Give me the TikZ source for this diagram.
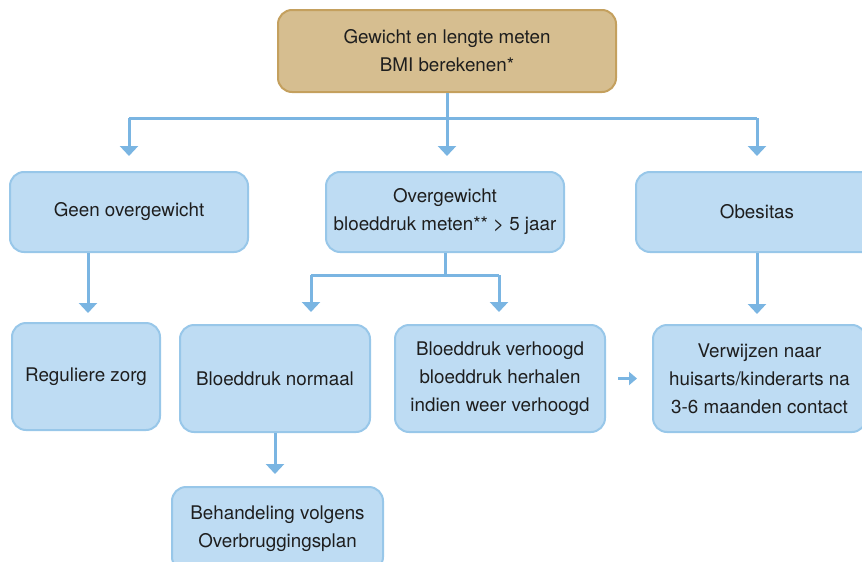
\documentclass[tikz,border=0pt]{standalone}
\usepackage{fontspec}
\setmainfont{TeX Gyre Heros}
\usetikzlibrary{arrows.meta,calc}
\definecolor{boxfill}{RGB}{190,220,243}
\definecolor{boxline}{RGB}{152,199,233}
\definecolor{conn}{RGB}{122,181,226}
\definecolor{tanfill}{RGB}{214,190,144}
\definecolor{tanline}{RGB}{196,160,94}
\definecolor{txt}{RGB}{30,30,30}
\tikzset{
  bluebox/.style={draw=boxline, fill=boxfill, line width=2pt, rounded corners=14pt,
    align=center, text=txt, inner sep=0pt, font=\fontsize{18.8}{28}\selectfont},
  tanbox/.style={bluebox, draw=tanline, fill=tanfill},
  connline/.style={draw=conn, line width=3pt},
  connarrow/.style={connline, -{Triangle[width=18pt,length=10pt]}},
  smallarrow/.style={connline, -{Triangle[width=13pt,length=8pt]}}
}
\begin{document}
\begin{tikzpicture}[x=1pt,y=-1pt]
\useasboundingbox (0,0) rectangle (862,562);
\node[tanbox, minimum width=338pt, minimum height=82pt] (top) at (447,51) {Gewicht en lengte meten\\BMI berekenen*};
\node[bluebox, minimum width=238pt, minimum height=80pt] (geen) at (129,212) {Geen overgewicht};
\node[bluebox, minimum width=238pt, minimum height=80pt] (ov) at (445,212) {Overgewicht\\bloeddruk meten** > 5 jaar};
\node[bluebox, minimum width=242pt, minimum height=80pt] (obes) at (757,212) {Obesitas};
\node[bluebox, minimum width=148pt, minimum height=107pt] (reg) at (86,376.5) {Reguliere zorg};
\node[bluebox, minimum width=190pt, minimum height=107pt] (norm) at (275,378.5) {Bloeddruk normaal};
\node[bluebox, minimum width=210pt, minimum height=107pt] (hoog) at (500,378.5) {Bloeddruk verhoogd\\bloeddruk herhalen\\indien weer verhoogd};
\node[bluebox, minimum width=213pt, minimum height=107pt] (verw) at (759.5,378.5) {Verwijzen naar\\huisarts/kinderarts na\\3-6 maanden contact};
\node[bluebox, minimum width=211pt, minimum height=84pt] (beh) at (277.5,529) {Behandeling volgens\\Overbruggingsplan};
% top split
\coordinate (tsplit) at ($(top.south)+(0,25)$);
\draw[connline] (top.south) -- (tsplit);
\draw[connline] (tsplit -| geen.north) -- (tsplit -| obes.north);
\draw[connarrow, shorten >=15pt] (tsplit -| geen.north) -- (geen.north);
\draw[connarrow, shorten >=15pt] (tsplit) -- (tsplit |- ov.north);
\draw[connarrow, shorten >=15pt] (tsplit -| obes.north) -- (obes.north);
% geen -> reg
\draw[connarrow, shorten >=9pt] ([xshift=2pt]geen.south -| reg.north) -- ([xshift=2pt]reg.north);
% ov split
\coordinate (osplit) at ($(ov.south)+(0,22)$);
\draw[connline] (ov.south) -- (osplit);
\coordinate (ol) at ($(osplit)+(-134,0)$);
\coordinate (or) at ($(osplit)+(54,0)$);
\draw[connline] (ol) -- (or);
\draw[connarrow, shorten >=12pt] (ol) -- (ol |- norm.north);
\draw[connarrow, shorten >=12pt] (or) -- (or |- hoog.north);
% obes -> verw
\draw[connarrow, shorten >=10pt] (obes.south) -- (obes.south |- verw.north);
% norm -> beh
\draw[connarrow, shorten >=12pt] (norm.south) -- (norm.south |- beh.north);
% hoog -> verw
\draw[smallarrow, shorten <=12pt, shorten >=15pt] (hoog.east) -- (verw.west);
\end{tikzpicture}
\end{document}
